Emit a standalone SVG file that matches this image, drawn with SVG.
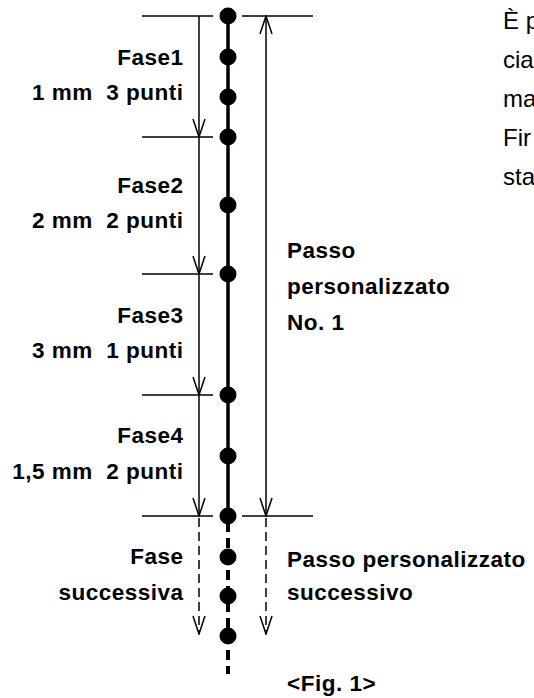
<svg xmlns="http://www.w3.org/2000/svg" width="534" height="698" viewBox="0 0 534 698">
<defs>
<style>
.b{font-family:"Liberation Sans",Arial,sans-serif;font-weight:bold;font-size:22.5px;letter-spacing:0.5px;fill:#000;white-space:pre}
.r{font-family:"Liberation Sans",Arial,sans-serif;font-size:24px;fill:#000;white-space:pre}
.end{text-anchor:end}
.thin{stroke:#000;stroke-width:1.5;fill:none}
.dash{stroke:#000;stroke-width:1.5;fill:none;stroke-dasharray:9 5}
.main{stroke:#000;stroke-width:3.5;fill:none}
.maind{stroke:#000;stroke-width:4;fill:none;stroke-dasharray:10 6}
.dot{fill:#000}
</style>
<marker id="ah" viewBox="0 0 20 14" refX="19" refY="7" markerWidth="20" markerHeight="14" markerUnits="userSpaceOnUse" orient="auto-start-reverse">
<path d="M1,1 L19,7 L1,13" fill="none" stroke="#000" stroke-width="1.5"/>
</marker>
</defs>
<rect width="534" height="698" fill="#fff"/>
<g id="connectors">
<line class="main" x1="228" y1="16" x2="228" y2="516"/>
<line class="maind" x1="228" y1="522" x2="228" y2="674"/>
<line class="thin" x1="142" y1="16" x2="213" y2="16"/>
<line class="thin" x1="242" y1="16" x2="313" y2="16"/>
<line class="thin" x1="142" y1="137" x2="213" y2="137"/>
<line class="thin" x1="142" y1="274" x2="213" y2="274"/>
<line class="thin" x1="142" y1="395" x2="213" y2="395"/>
<line class="thin" x1="142" y1="516" x2="213" y2="516"/>
<line class="thin" x1="242" y1="516" x2="313" y2="516"/>
<line class="thin" x1="199" y1="16" x2="199" y2="137" marker-end="url(#ah)"/>
<line class="thin" x1="199" y1="137" x2="199" y2="274" marker-end="url(#ah)"/>
<line class="thin" x1="199" y1="274" x2="199" y2="395" marker-end="url(#ah)"/>
<line class="thin" x1="199" y1="395" x2="199" y2="516" marker-end="url(#ah)"/>
<line class="thin" x1="266" y1="16" x2="266" y2="516" marker-start="url(#ah)" marker-end="url(#ah)"/>
<line class="dash" x1="199" y1="518" x2="199" y2="634" marker-end="url(#ah)"/>
<line class="dash" x1="266" y1="518" x2="266" y2="634" marker-end="url(#ah)"/>
</g>
<g id="dots">
<circle class="dot" cx="228" cy="16" r="8.5"/>
<circle class="dot" cx="228" cy="57" r="8.5"/>
<circle class="dot" cx="228" cy="97" r="8.5"/>
<circle class="dot" cx="228" cy="137" r="8.5"/>
<circle class="dot" cx="228" cy="205" r="8.5"/>
<circle class="dot" cx="228" cy="274" r="8.5"/>
<circle class="dot" cx="228" cy="395" r="8.5"/>
<circle class="dot" cx="228" cy="456" r="8.5"/>
<circle class="dot" cx="228" cy="516" r="8.5"/>
<circle class="dot" cx="228" cy="557" r="8.5"/>
<circle class="dot" cx="228" cy="596" r="8.5"/>
<circle class="dot" cx="228" cy="636" r="8.5"/>
</g>
<g id="fase1"><text class="b end" x="183.5" y="65">Fase1</text><text class="b end" x="183.5" y="100">1 mm  3 punti</text></g>
<g id="fase2"><text class="b end" x="183.5" y="193">Fase2</text><text class="b end" x="183.5" y="228">2 mm  2 punti</text></g>
<g id="fase3"><text class="b end" x="183.5" y="323">Fase3</text><text class="b end" x="183.5" y="358">3 mm  1 punti</text></g>
<g id="fase4"><text class="b end" x="183.5" y="443">Fase4</text><text class="b end" x="183.5" y="479">1,5 mm  2 punti</text></g>
<g id="fase-succ"><text class="b end" x="183.5" y="564">Fase</text><text class="b end" x="183.5" y="600">successiva</text></g>
<g id="passo1"><text class="b" x="287" y="258">Passo</text><text class="b" x="287" y="294">personalizzato</text><text class="b" x="287" y="330">No. 1</text></g>
<g id="passo-succ"><text class="b" x="287" y="567">Passo personalizzato</text><text class="b" x="287" y="600">successivo</text></g>
<g id="caption"><text class="b" x="287" y="691">&lt;Fig. 1&gt;</text></g>
<g id="paragraph">
<text class="r" x="503" y="29">È p</text>
<text class="r" x="503" y="68">cia</text>
<text class="r" x="503" y="107">ma</text>
<text class="r" x="503" y="146">Fir</text>
<text class="r" x="503" y="185">sta</text>
</g>
</svg>
